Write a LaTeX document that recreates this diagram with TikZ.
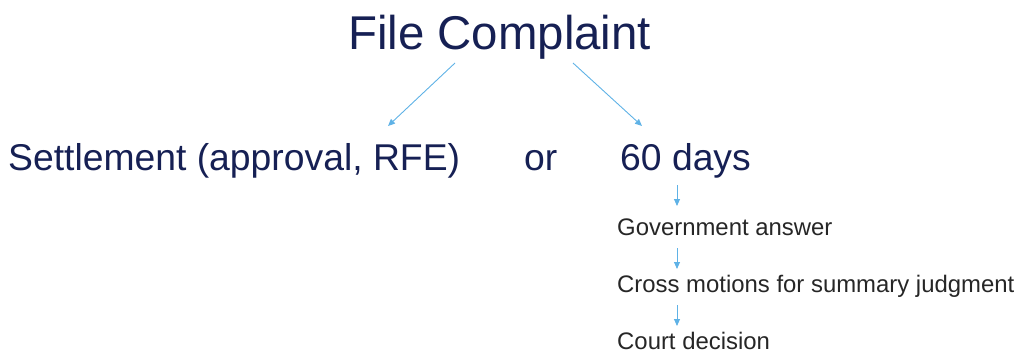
\documentclass[tikz,border=0pt]{standalone}
\usepackage{fontspec}
\setmainfont{Liberation Sans}
\usetikzlibrary{arrows.meta}
\definecolor{navy}{RGB}{22,32,84}
\definecolor{arrblue}{RGB}{95,178,230}
\definecolor{smalltxt}{RGB}{38,38,38}
\begin{document}
\begin{tikzpicture}[x=1pt,y=-1pt,
  big/.style={anchor=base west,inner sep=0pt,text=navy,font=\fontsize{47.4}{50}\selectfont},
  mid/.style={anchor=base west,inner sep=0pt,text=navy,font=\fontsize{37.3}{40}\selectfont},
  small/.style={anchor=base west,inner sep=0pt,text=smalltxt,font=\fontsize{23.9}{26}\selectfont},
  conn/.style={draw=arrblue,line width=0.9pt,-{Triangle[length=7pt,width=6pt]}}]
\useasboundingbox (0,0) rectangle (1023,353);
\node[big] (fc) at (348,50) {File Complaint};
\node[mid] (set) at (8,170) {Settlement (approval, RFE)};
\node[mid] (or) at (524,170) {or};
\node[mid] (d60) at (620,170) {60 days};
\node[small] (ga) at (617,235) {Government answer};
\node[small] (cm) at (617,292) {Cross motions for summary judgment};
\node[small] (cd) at (617,349) {Court decision};
\coordinate (a1s) at (455,63);
\coordinate (a1e) at (388,126);
\coordinate (a2s) at (573,63);
\coordinate (a2e) at (642,126);
\coordinate (b1s) at (677,185);
\coordinate (b1e) at (677,206);
\coordinate (b2s) at (677,248);
\coordinate (b2e) at (677,269);
\coordinate (b3s) at (677,305);
\coordinate (b3e) at (677,326);
\draw[conn] (a1s) -- (a1e);
\draw[conn] (a2s) -- (a2e);
\draw[conn] (b1s) -- (b1e);
\draw[conn] (b2s) -- (b2e);
\draw[conn] (b3s) -- (b3e);
\end{tikzpicture}
\end{document}
